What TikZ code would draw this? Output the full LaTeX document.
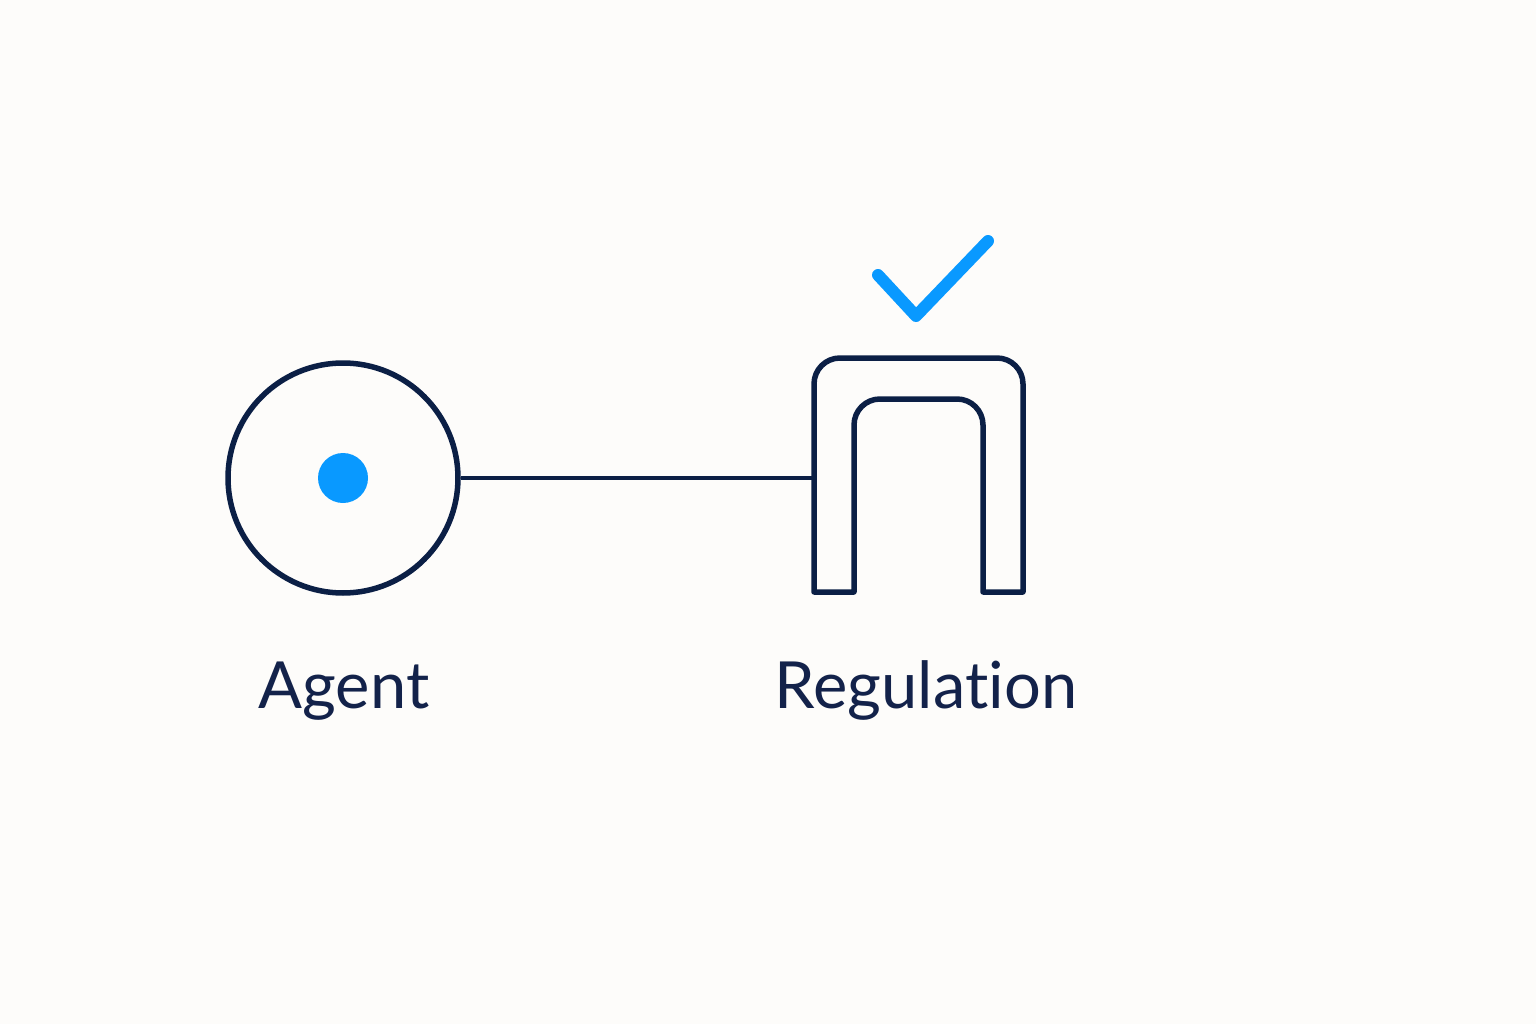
\documentclass[tikz,border=0pt]{standalone}
\usepackage{fontspec}
\setmainfont{Lato}[Ligatures=NoCommon]
\definecolor{bg}{HTML}{FDFCFA}
\definecolor{navy}{HTML}{0B1F45}
\definecolor{txt}{HTML}{13224A}
\definecolor{blue}{HTML}{0999FF}
\tikzset{
  stroke/.style={draw=navy, line width=5.5pt},
  lbl/.style={font=\fontsize{65}{70}\selectfont, text=txt, anchor=base, inner sep=0pt},
  tick/.style={draw=blue, line width=12pt, line cap=round, line join=round}
}
\begin{document}
\begin{tikzpicture}[x=1pt,y=-1pt]
\fill[bg] (0,0) rectangle (1536,1024);
\useasboundingbox (0,0) rectangle (1536,1024);
% agent
\node[stroke, circle, minimum size=230pt, inner sep=0pt] (agent) at (343,478) {};
\fill[blue] (agent.center) circle (25pt);
% arch
\draw[stroke, line join=round] (814,592) [rounded corners=26pt] -- (814,358) -- (1023,358) [sharp corners] -- (1023,592) -- (983,592) [rounded corners=26pt] -- (983,399) -- (854,399) [sharp corners] -- (854,592) -- cycle;
\coordinate (archL) at (814,478);
% connector
\draw[stroke, line width=4.5pt] (agent.east) -- (archL);
% check
\coordinate (c1) at (878,275);
\coordinate (c2) at (916,316);
\coordinate (c3) at (988,241);
\draw[tick] (c1) -- (c2) -- (c3);
% labels
\node[lbl] (agentlbl) at (344,708) {Agent};
\node[lbl] (reglbl) at (926,708) {Regulat\kern0pt ion};
\end{tikzpicture}
\end{document}
